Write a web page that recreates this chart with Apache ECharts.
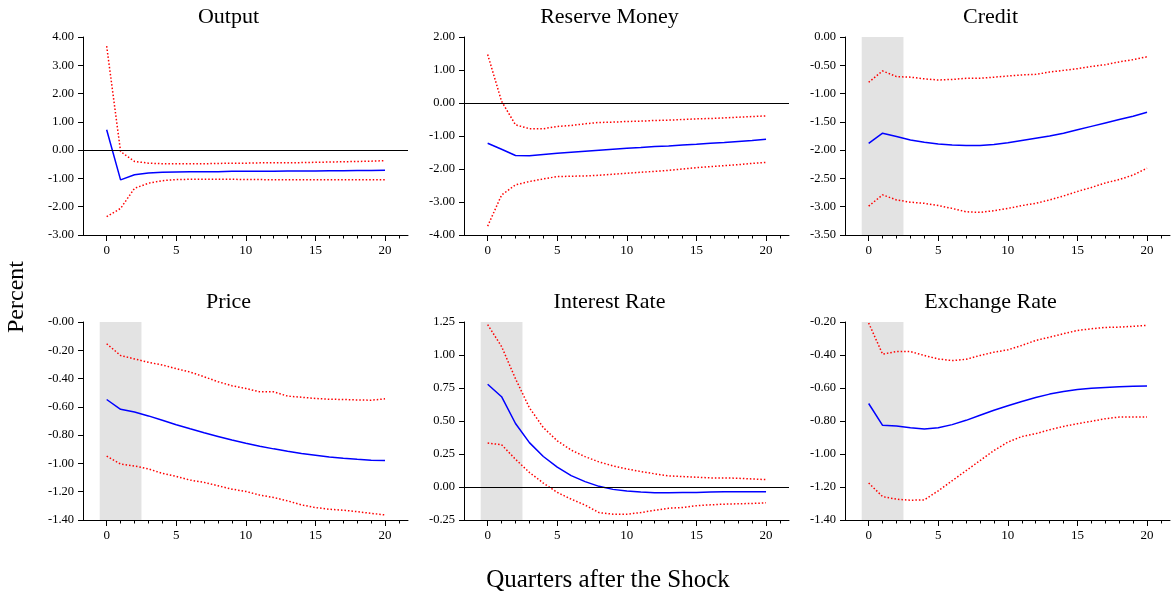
<!DOCTYPE html>
<html>
<head>
<meta charset="utf-8">
<title>Impulse responses</title>
<script src="https://cdn.jsdelivr.net/npm/echarts@6/dist/echarts.min.js"></script>
<style>
  html, body { margin: 0; padding: 0; background: #fff; }
  #main { width: 1171px; height: 596px; }
</style>
</head>
<body>
<div id="main"></div>
<script>
// Horizon (quarters after the shock)
var quarters = [0, 1, 2, 3, 4, 5, 6, 7, 8, 9, 10, 11, 12, 13, 14, 15, 16, 17, 18, 19, 20];
var xMajorTicks = [0, 5, 10, 15, 20];
var xMinorTicks = [1, 2, 3, 4, 6, 7, 8, 9, 11, 12, 13, 14, 16, 17, 18, 19, 21];

// Output
var outputMean  = [0.72, -1.05, -0.87, -0.81, -0.78, -0.77, -0.76, -0.76, -0.76, -0.75, -0.75, -0.75, -0.75, -0.74, -0.74, -0.74, -0.73, -0.73, -0.72, -0.72, -0.71];
var outputUpper = [3.68, -0.05, -0.40, -0.46, -0.48, -0.48, -0.48, -0.48, -0.47, -0.46, -0.46, -0.45, -0.45, -0.45, -0.44, -0.43, -0.42, -0.41, -0.40, -0.39, -0.37];
var outputLower = [-2.35, -2.06, -1.35, -1.17, -1.08, -1.04, -1.03, -1.03, -1.03, -1.03, -1.04, -1.04, -1.05, -1.05, -1.05, -1.05, -1.05, -1.05, -1.05, -1.05, -1.05];
var outputTicks = ['-3.00', '-2.00', '-1.00', '0.00', '1.00', '2.00', '3.00', '4.00'];

// Reserve Money
var moneyMean  = [-1.22, -1.40, -1.59, -1.60, -1.56, -1.52, -1.49, -1.46, -1.43, -1.40, -1.37, -1.35, -1.32, -1.30, -1.27, -1.25, -1.22, -1.20, -1.17, -1.14, -1.10];
var moneyUpper = [1.47, 0.05, -0.66, -0.78, -0.78, -0.71, -0.68, -0.63, -0.59, -0.58, -0.56, -0.55, -0.53, -0.52, -0.50, -0.48, -0.47, -0.45, -0.43, -0.41, -0.39];
var moneyLower = [-3.73, -2.79, -2.48, -2.38, -2.30, -2.23, -2.22, -2.21, -2.19, -2.16, -2.13, -2.10, -2.07, -2.04, -2.00, -1.96, -1.93, -1.90, -1.87, -1.83, -1.80];
var moneyTicks = ['-4.00', '-3.00', '-2.00', '-1.00', '0.00', '1.00', '2.00'];

// Credit
var creditMean  = [-1.88, -1.70, -1.76, -1.82, -1.86, -1.89, -1.91, -1.92, -1.92, -1.90, -1.87, -1.83, -1.79, -1.75, -1.70, -1.64, -1.58, -1.52, -1.46, -1.40, -1.33];
var creditUpper = [-0.80, -0.60, -0.70, -0.71, -0.74, -0.76, -0.75, -0.73, -0.73, -0.71, -0.69, -0.67, -0.66, -0.62, -0.59, -0.56, -0.52, -0.49, -0.44, -0.40, -0.35];
var creditLower = [-2.99, -2.79, -2.88, -2.92, -2.94, -2.98, -3.03, -3.09, -3.10, -3.07, -3.03, -2.98, -2.94, -2.88, -2.81, -2.73, -2.66, -2.58, -2.52, -2.44, -2.32];
var creditTicks = ['-3.50', '-3.00', '-2.50', '-2.00', '-1.50', '-1.00', '-0.50', '0.00'];

// Price
var priceMean  = [-0.548, -0.617, -0.636, -0.664, -0.695, -0.726, -0.755, -0.783, -0.809, -0.835, -0.857, -0.878, -0.897, -0.914, -0.930, -0.942, -0.954, -0.963, -0.971, -0.978, -0.980];
var priceUpper = [-0.154, -0.237, -0.261, -0.285, -0.304, -0.330, -0.354, -0.387, -0.422, -0.451, -0.470, -0.494, -0.494, -0.524, -0.532, -0.541, -0.546, -0.548, -0.551, -0.553, -0.543];
var priceLower = [-0.949, -1.004, -1.018, -1.039, -1.070, -1.092, -1.118, -1.134, -1.158, -1.182, -1.198, -1.224, -1.241, -1.265, -1.293, -1.312, -1.324, -1.331, -1.341, -1.353, -1.364];
var priceTicks = ['-1.40', '-1.20', '-1.00', '-0.80', '-0.60', '-0.40', '-0.20', '-0.00'];

// Interest Rate
var rateMean  = [0.778, 0.684, 0.481, 0.336, 0.231, 0.150, 0.086, 0.041, 0.005, -0.018, -0.031, -0.038, -0.043, -0.043, -0.041, -0.041, -0.038, -0.036, -0.036, -0.036, -0.036];
var rateUpper = [1.230, 1.064, 0.820, 0.600, 0.450, 0.350, 0.280, 0.230, 0.190, 0.160, 0.137, 0.117, 0.100, 0.084, 0.079, 0.074, 0.069, 0.069, 0.066, 0.061, 0.056];
var rateLower = [0.333, 0.320, 0.210, 0.110, 0.030, -0.041, -0.092, -0.137, -0.194, -0.206, -0.206, -0.194, -0.176, -0.161, -0.155, -0.142, -0.135, -0.130, -0.127, -0.125, -0.120];
var rateTicks = ['-0.25', '0.00', '0.25', '0.50', '0.75', '1.00', '1.25'];

// Exchange Rate
var fxMean  = [-0.694, -0.826, -0.830, -0.841, -0.849, -0.841, -0.822, -0.796, -0.765, -0.735, -0.708, -0.682, -0.658, -0.637, -0.621, -0.609, -0.601, -0.597, -0.593, -0.590, -0.588];
var fxUpper = [-0.206, -0.395, -0.379, -0.379, -0.403, -0.424, -0.434, -0.426, -0.403, -0.383, -0.369, -0.342, -0.312, -0.292, -0.271, -0.251, -0.241, -0.233, -0.231, -0.226, -0.220];
var fxLower = [-1.176, -1.258, -1.274, -1.280, -1.278, -1.223, -1.162, -1.101, -1.040, -0.979, -0.928, -0.894, -0.877, -0.853, -0.833, -0.816, -0.802, -0.786, -0.776, -0.776, -0.776];
var fxTicks = ['-1.40', '-1.20', '-1.00', '-0.80', '-0.60', '-0.40', '-0.20'];

var FONT = "'Liberation Serif', 'DejaVu Serif', serif";

// panneaux : données + réglages d'axe
var panels = [
    { title: 'Output',        mean: outputMean, upper: outputUpper, lower: outputLower, ticks: outputTicks, min: -3,    max: 4,    step: 1,    zero: true,  shade: false },
    { title: 'Reserve Money', mean: moneyMean,  upper: moneyUpper,  lower: moneyLower,  ticks: moneyTicks,  min: -4,    max: 2,    step: 1,    zero: true,  shade: false },
    { title: 'Credit',        mean: creditMean, upper: creditUpper, lower: creditLower, ticks: creditTicks, min: -3.5,  max: 0,    step: 0.5,  zero: false, shade: true },
    { title: 'Price',         mean: priceMean,  upper: priceUpper,  lower: priceLower,  ticks: priceTicks,  min: -1.4,  max: 0,    step: 0.2,  zero: false, shade: true },
    { title: 'Interest Rate', mean: rateMean,   upper: rateUpper,   lower: rateLower,   ticks: rateTicks,   min: -0.25, max: 1.25, step: 0.25, zero: true,  shade: true },
    { title: 'Exchange Rate', mean: fxMean,     upper: fxUpper,     lower: fxLower,     ticks: fxTicks,     min: -1.4,  max: -0.2, step: 0.2,  zero: false, shade: true }
];

var colLeft = [83, 464, 845];
var rowTop = [37, 322];
var gridW = 325, gridH = 198;

function pairs(values) {
    return quarters.map(function (q, i) { return [q, values[i]]; });
}

var grids = [], xAxes = [], yAxes = [], series = [], graphics = [];

panels.forEach(function (p, k) {
    var col = k % 3, row = Math.floor(k / 3);
    grids.push({ left: colLeft[col], top: rowTop[row], width: gridW, height: gridH });

    var xBase = {
        type: 'value', gridIndex: k, min: -1.7, max: 21.65, position: 'bottom',
        splitLine: { show: false }
    };
    // axe principal
    xAxes.push(Object.assign({}, xBase, {
        axisLine: { show: true, onZero: false, lineStyle: { color: '#000', width: 1 } },
        axisTick: { show: true, length: 6, customValues: xMajorTicks, lineStyle: { color: '#000' } },
        axisLabel: { show: true, customValues: xMajorTicks, color: '#000', fontFamily: FONT, fontSize: 13, margin: 9 }
    }));
    // petites graduations
    xAxes.push(Object.assign({}, xBase, {
        axisLine: { show: false, onZero: false },
        axisTick: { show: true, length: 3.5, customValues: xMinorTicks, lineStyle: { color: '#000' } },
        axisLabel: { show: false }
    }));

    var ticks = p.ticks;
    yAxes.push({
        type: 'value', gridIndex: k, min: p.min, max: p.max, interval: p.step,
        splitLine: { show: false },
        axisLine: { show: true, onZero: false, lineStyle: { color: '#000', width: 1 } },
        axisTick: { show: true, length: 5, lineStyle: { color: '#000' } },
        axisLabel: {
            color: '#000', fontFamily: FONT, fontSize: 12.5, margin: 9,
            formatter: function (v) {
                var i = Math.round((v - p.min) / p.step);
                return ticks[i];
            }
        }
    });

    var xi = k * 2;
    var band = {
        type: 'line', xAxisIndex: xi, yAxisIndex: k, data: [], silent: true
    };
    if (p.shade) {
        band.markArea = {
            silent: true,
            itemStyle: { color: '#e3e3e3' },
            data: [[{ xAxis: -0.5 }, { xAxis: 2.5 }]]
        };
    }
    if (p.zero) {
        band.markLine = {
            silent: true, symbol: 'none', label: { show: false },
            lineStyle: { color: '#000', width: 1, type: 'solid' },
            data: [{ yAxis: 0 }]
        };
    }
    series.push(band);

    [p.upper, p.lower].forEach(function (v) {
        series.push({
            type: 'line', xAxisIndex: xi, yAxisIndex: k, data: pairs(v),
            showSymbol: false, silent: true,
            lineStyle: { color: '#ff0000', width: 1.5, type: [1.5, 2] }
        });
    });
    series.push({
        type: 'line', xAxisIndex: xi, yAxisIndex: k, data: pairs(p.mean),
        showSymbol: false, silent: true,
        lineStyle: { color: '#0000ff', width: 1.5 }
    });

    graphics.push({
        type: 'text', x: colLeft[col] + gridW / 2 - 17, y: rowTop[row] - 20,
        style: { text: p.title, fill: '#000', font: '22px ' + FONT, textAlign: 'center', textVerticalAlign: 'middle' }
    });
});

graphics.push({
    type: 'text', x: 17, y: 297, rotation: Math.PI / 2,
    style: { text: 'Percent', fill: '#000', font: '24px ' + FONT, textAlign: 'center', textVerticalAlign: 'middle' }
});
graphics.push({
    type: 'text', x: 608, y: 580,
    style: { text: 'Quarters after the Shock', fill: '#000', font: '25px ' + FONT, textAlign: 'center', textVerticalAlign: 'middle' }
});

var chart = echarts.init(document.getElementById('main'), null, { renderer: 'canvas' });
chart.setOption({
    animation: false,
    backgroundColor: '#fff',
    grid: grids,
    xAxis: xAxes,
    yAxis: yAxes,
    series: series,
    graphic: graphics
});
</script>
</body>
</html>
